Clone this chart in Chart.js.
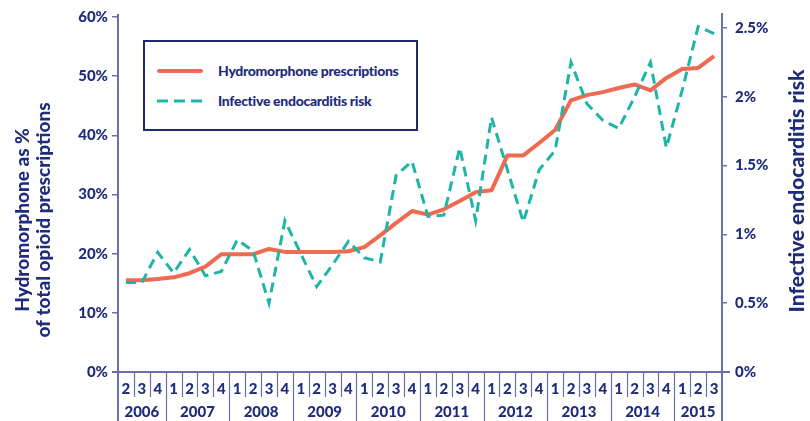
<!DOCTYPE html>
<html><head><meta charset="utf-8">
<script src="https://cdn.jsdelivr.net/npm/chart.js@4.4.1/dist/chart.umd.min.js"></script>
<style>
html,body{margin:0;padding:0;background:#fff;}
#wrap{position:relative;width:810px;height:421px;overflow:hidden;}
#legend{position:absolute;left:143px;top:40px;width:275px;height:91px;border:2px solid #1f2a6e;box-sizing:border-box;background:#fff;font-family:Lato,"Open Sans",sans-serif;font-weight:900;font-size:14px;color:#1f2c7c;}
.item{position:absolute;left:0;height:20px;width:100%;}
.item svg{position:absolute;left:12px;top:4px;}
.item span{position:absolute;left:73px;top:1px;white-space:nowrap;letter-spacing:-0.3px;}
</style></head>
<body>
<div id="wrap">
<canvas id="c" width="810" height="421"></canvas>
<div id="legend">
  <div class="item" style="top:19px"><svg width="46" height="12"><line x1="2" y1="6" x2="44" y2="6" stroke="#ee6a50" stroke-width="4" stroke-linecap="round"/></svg><span>Hydromorphone prescriptions</span></div>
  <div class="item" style="top:49px"><svg width="46" height="12"><line x1="0" y1="6" x2="46" y2="6" stroke="#1db5a6" stroke-width="3" stroke-dasharray="11,6"/></svg><span>Infective endocarditis risk</span></div>
</div>
</div>
<script>
const quarterLabels = ['2','3','4','1','2','3','4','1','2','3','4','1','2','3','4','1','2','3','4','1','2','3','4','1','2','3','4','1','2','3','4','1','2','3','4','1','2','3'];
const yearLabels = ['2006','2007','2008','2009','2010','2011','2012','2013','2014','2015'];
const yearCounts = [3,4,4,4,4,4,4,4,4,3];
const hydromorphone = [15.5,15.5,15.7,16.0,16.7,17.8,19.9,19.9,19.9,20.8,20.3,20.3,20.3,20.3,20.4,21.1,23.1,25.2,27.2,26.6,27.5,28.9,30.4,30.7,36.6,36.6,38.7,40.9,45.9,46.8,47.3,48.0,48.6,47.6,49.7,51.2,51.4,53.4];
const endocarditis = [0.65,0.65,0.87,0.72,0.89,0.70,0.73,0.96,0.88,0.50,1.10,0.86,0.62,0.78,0.95,0.83,0.80,1.43,1.53,1.13,1.14,1.63,1.10,1.85,1.47,1.09,1.47,1.61,2.25,1.95,1.83,1.77,2.00,2.25,1.63,2.05,2.51,2.46];
const leftTicks = [0,10,20,30,40,50,60];
const rightTicks = [0,0.5,1,1.5,2,2.5];
const leftTitle = ['Hydromorphone as %','of total opioid prescriptions'];
const rightTitle = 'Infective endocarditis risk';

const NAVY = '#1f2c7c', AXIS = '#6a70ae', RED = '#ee6a50', TEAL = '#1db5a6';
const FONT = 'Lato, "Open Sans", sans-serif';

const tablePlugin = {
  id: 'table',
  afterDraw(chart) {
    const ctx = chart.ctx, x = chart.scales.x, a = chart.chartArea;
    ctx.save();
    ctx.strokeStyle = AXIS; ctx.lineWidth = 1.2;
    for (let k = 1; k < quarterLabels.length; k++) {
      const px = Math.round(x.getPixelForValue(k - 0.5)) + 0.5;
      const isYear = quarterLabels[k] === '1';
      ctx.beginPath(); ctx.moveTo(px, a.bottom); ctx.lineTo(px, isYear ? chart.height : a.bottom + 25); ctx.stroke();
    }
    ctx.lineWidth = 2;
    ctx.beginPath(); ctx.moveTo(a.left, a.bottom); ctx.lineTo(a.left, chart.height); ctx.stroke();
    ctx.beginPath(); ctx.moveTo(a.right, a.bottom); ctx.lineTo(a.right, chart.height); ctx.stroke();
    ctx.beginPath(); ctx.moveTo(a.left, a.top); ctx.lineTo(a.left, a.top - 3); ctx.stroke();
    ctx.beginPath(); ctx.moveTo(a.right, a.top); ctx.lineTo(a.right, a.top - 4); ctx.stroke();
    ctx.beginPath(); ctx.moveTo(a.left - 6, a.bottom); ctx.lineTo(a.right + 8, a.bottom); ctx.stroke();
    // years
    ctx.fillStyle = NAVY; ctx.font = '900 15px ' + FONT; ctx.textAlign = 'center'; ctx.textBaseline = 'middle';
    let start = 0;
    yearLabels.forEach((yr, i) => {
      const end = start + yearCounts[i];
      const px = (x.getPixelForValue(start - 0.5) + x.getPixelForValue(end - 0.5)) / 2;
      ctx.fillText(yr, px, a.bottom + 40);
      start = end;
    });
    // axis titles
    ctx.font = '900 19px ' + FONT;
    ctx.save(); ctx.translate(23, 220); ctx.rotate(-Math.PI / 2); ctx.fillText(leftTitle[0], 0, 0); ctx.restore();
    ctx.save(); ctx.translate(44, 220); ctx.rotate(-Math.PI / 2); ctx.fillText(leftTitle[1], 0, 0); ctx.restore();
    ctx.font = '900 21px ' + FONT;
    ctx.save(); ctx.translate(797, 191); ctx.rotate(-Math.PI / 2); ctx.fillText(rightTitle, 0, 0); ctx.restore();
    ctx.restore();
  }
};

new Chart(document.getElementById('c'), {
  type: 'line',
  data: {
    labels: quarterLabels,
    datasets: [
      { label: 'Infective endocarditis risk', data: endocarditis, yAxisID: 'y1', borderColor: TEAL, borderWidth: 3, borderDash: [10, 6], pointRadius: 0, tension: 0, fill: false },
      { label: 'Hydromorphone prescriptions', data: hydromorphone, yAxisID: 'y', borderColor: RED, borderWidth: 4, pointRadius: 0, tension: 0, fill: false, borderJoinStyle: 'round' }
    ]
  },
  options: {
    responsive: false, animation: false, devicePixelRatio: 1,
    layout: { padding: { top: 17, bottom: 25, left: 0, right: 0 } },
    plugins: { legend: { display: false }, tooltip: { enabled: false } },
    scales: {
      x: {
        type: 'category', offset: true,
        afterFit: s => { s.height = 24; },
        grid: { display: false, drawTicks: false },
        border: { display: true, color: AXIS, width: 2 },
        ticks: { color: NAVY, font: { family: FONT, weight: '900', size: 15 }, padding: 8, maxRotation: 0, autoSkip: false }
      },
      y: {
        position: 'left', min: 0, max: 60,
        afterBuildTicks: s => { s.ticks = leftTicks.map(v => ({ value: v })); },
        afterFit: s => { s.width = 118; },
        grid: { drawOnChartArea: false, color: AXIS, tickLength: 6, lineWidth: 1.5 },
        border: { display: true, color: AXIS, width: 2 },
        ticks: { color: NAVY, font: { family: FONT, weight: '900', size: 15 }, padding: 4, callback: v => v + '%' }
      },
      y1: {
        position: 'right', min: 0, max: 2.58,
        afterBuildTicks: s => { s.ticks = rightTicks.map(v => ({ value: v })); },
        afterFit: s => { s.width = 88; },
        grid: { drawOnChartArea: false, color: AXIS, tickLength: 5, lineWidth: 1.5 },
        border: { display: true, color: AXIS, width: 2 },
        ticks: { color: NAVY, font: { family: FONT, weight: '900', size: 15 }, padding: 8, callback: v => v + '%' }
      }
    }
  },
  plugins: [tablePlugin]
});
</script>
</body></html>
